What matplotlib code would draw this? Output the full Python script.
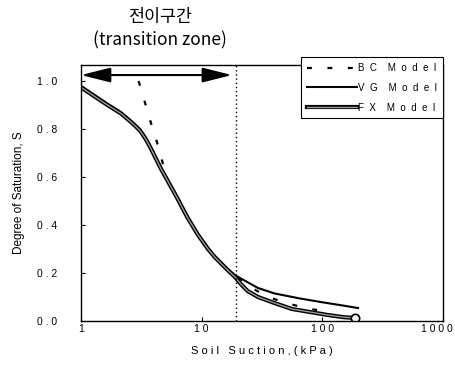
import numpy as np
import matplotlib.pyplot as plt
import matplotlib.patheffects as pe
import matplotlib.transforms as mtransforms

# values
bc_x = [3.0, 3.32, 3.59, 3.95, 4.34, 5.16, 6.24, 7.55, 9.31, 11.28, 12.9, 16.2, 20, 26, 35.5, 52.5, 79, 120]
bc_y = [1.0, 0.925, 0.867, 0.796, 0.733, 0.59, 0.515, 0.435, 0.36, 0.302, 0.267, 0.217, 0.178, 0.1375, 0.10, 0.072, 0.05, 0.0375]

vg_x = [1, 1.26, 1.67, 2.14, 2.6, 3.08, 3.46, 3.8, 4.18, 4.6, 5.16, 6.24, 7.55, 9.31, 11.28, 12.9, 16.2, 19,
        29.3, 40, 65, 100, 150, 197]
vg_y = [0.98, 0.946, 0.905, 0.871, 0.835, 0.80, 0.762, 0.724, 0.682, 0.64, 0.595, 0.52, 0.44, 0.364, 0.305,
        0.27, 0.22, 0.19, 0.1375, 0.115, 0.094, 0.078, 0.064, 0.054]

fx_x = [1, 1.26, 1.67, 2.14, 2.6, 3.08, 3.46, 3.8, 4.18, 4.6, 5.16, 6.24, 7.55, 9.31, 11.28, 12.9, 16.2, 19,
        21, 24, 29.3, 40, 56, 80, 111, 150, 186]
fx_y = [0.974, 0.94, 0.899, 0.865, 0.829, 0.794, 0.756, 0.718, 0.676, 0.634, 0.589, 0.514, 0.435, 0.359, 0.30,
        0.265, 0.215, 0.182, 0.155, 0.125, 0.10, 0.075, 0.05, 0.037, 0.025, 0.016, 0.0125]

zone_start = 1.0
zone_end = 17.8
zone_line = 19.3

xticks = [1, 10, 100, 1000]
xtick_labels = ["1", "1 0", "1 0 0", "1 0 0 0"]
yticks = [0.0, 0.2, 0.4, 0.6, 0.8, 1.0]
ytick_labels = ["0 . 0", "0 . 2", "0 . 4", "0 . 6", "0 . 8", "1 . 0"]

plt.rcParams['font.family'] = ['Liberation Sans', 'Noto Sans CJK KR', 'DejaVu Sans']

fig = plt.figure(figsize=(4.55, 3.65), dpi=100)
ax = fig.add_axes([0.178, 0.1205, 0.796, 0.7015])

ax.plot(bc_x, bc_y, color='black', lw=1.6, dashes=(2.2, 7), label="B  C    M  o  d  e  l")
ax.plot(vg_x, vg_y, color='black', lw=1.5, label="V  G    M  o  d  e  l")
ax.plot(fx_x, fx_y, color='#9a9a9a', lw=1.0, label="F  X    M  o  d  e  l",
        path_effects=[pe.Stroke(linewidth=3.0, foreground='black'), pe.Normal()])
ax.plot(fx_x[-1], fx_y[-1], 'o', ms=6, mfc='white', mec='black', mew=1.2)

ax.axvline(zone_line, color='black', lw=1.0, ls=(0, (1, 2)))
ax.annotate("", xy=(zone_end, 1.025), xytext=(zone_start, 1.025),
            arrowprops=dict(arrowstyle='<|-|>,head_length=1.8,head_width=0.45',
                            mutation_scale=10, color='black', lw=1.5,
                            shrinkA=0, shrinkB=0))

ax.set_xscale('log')
ax.set_xlim(1, 1000)
ax.set_ylim(0, 1.067)
ax.set_xticks(xticks)
ax.set_xticklabels(xtick_labels)
ax.minorticks_off()
ax.set_yticks(yticks)
ax.set_yticklabels(ytick_labels)
ax.tick_params(direction='in', length=3, labelsize=7.5)
ax.tick_params(axis='x', pad=2)
ax.tick_params(axis='y', pad=17)

# last x label sits a bit left, as in the original
lbl = ax.get_xticklabels()[-1]
lbl.set_transform(lbl.get_transform() + mtransforms.ScaledTranslation(-6 / 100, 0, fig.dpi_scale_trans))

for s in ax.spines.values():
    s.set_linewidth(1.0)

ax.set_ylabel("Degree of Saturation, S", fontsize=8.5, labelpad=9)
ax.set_xlabel("S o i l   S u c t i o n , ( k P a )", fontsize=8, labelpad=9)

fig.text(160 / 455, 1 - 17 / 365, "전이구간", fontsize=12.5, ha='center', va='center',
         family=['Noto Sans CJK KR', 'DejaVu Sans'])
fig.text(160 / 455, 1 - 40 / 365, "(transition zone)", fontsize=12.5, ha='center', va='center',
         family=['Noto Sans CJK KR', 'DejaVu Sans'])

leg = ax.legend(loc='upper right', bbox_to_anchor=(1.0, 1.03), borderaxespad=0, fontsize=7,
                fancybox=False, edgecolor='black', framealpha=1,
                handlelength=5.2, handletextpad=0.1, borderpad=0.6, labelspacing=1.0)
leg.get_frame().set_linewidth(0.8)

fig.savefig("out.png", dpi=100)
